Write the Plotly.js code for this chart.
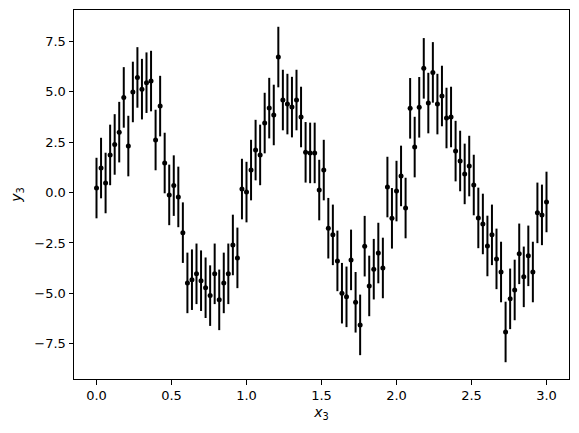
<!DOCTYPE html>
<html>
<head>
<meta charset="utf-8">
<script src="https://cdn.plot.ly/plotly-3.0.1.min.js"></script>
<style>html,body{margin:0;padding:0;background:#fff;}#chart{width:579px;height:433px;}</style>
</head>
<body>
<div id="chart"></div>
<script>
const xStart = 0, xEnd = 3;
const yValues = [
  0.22, 1.21, 0.47, 1.86, 2.38, 2.99, 4.71, 2.30, 4.98, 5.70,
  5.12, 5.44, 5.52, 2.60, 4.28, 1.46, -0.12, 0.34, -0.22, -1.99,
  -4.48, -4.32, -4.03, -4.37, -4.72, -5.11, -4.03, -5.32, -4.48, -4.03,
  -2.60, -3.24, 0.17, 0.02, 1.11, 2.10, 1.86, 3.44, 4.18, 3.84,
  6.71, 4.58, 4.38, 4.23, 4.58, 3.74, 1.99, 1.96, 1.96, 0.12,
  1.11, -1.77, -2.10, -3.39, -4.99, -5.17, -3.34, -5.44, -6.56, -2.66,
  -4.63, -3.80, -3.00, -3.74, 0.27, -1.28, 0.07, 0.82, -0.77, 4.17,
  2.25, 4.22, 6.15, 4.43, 5.95, 4.38, 4.78, 3.69, 3.74, 2.05,
  1.56, 0.92, 1.31, 0.37, -1.26, -1.56, -2.65, -2.10, -3.29, -3.94,
  -6.91, -5.27, -4.83, -3.04, -4.18, -3.14, -3.94, -1.01, -1.11, -0.47
];
const yError = 1.5;
const xValues = yValues.map((_, i) => xStart + (xEnd - xStart) * i / (yValues.length - 1));

const lo = Math.min(...yValues) - yError, hi = Math.max(...yValues) + yError;
const pad = (hi - lo) * 0.05;

const tickFont = {family: 'DejaVu Sans', size: 13, color: '#000'};
const titleFont = {family: 'DejaVu Sans', size: 14, color: '#000'};
const axisCommon = {
  showline: true, mirror: true, linecolor: '#000', linewidth: 1,
  ticks: 'outside', ticklen: 4.5, tickwidth: 1, tickcolor: '#000',
  showgrid: false, zeroline: false, tickfont: tickFont, tickformat: '.1f'
};

Plotly.newPlot('chart', [{
  x: xValues, y: yValues, type: 'scatter', mode: 'markers',
  marker: {color: '#000', size: 5},
  error_y: {type: 'constant', value: yError, color: '#000', thickness: 2, width: 0}
}], {
  width: 579, height: 433,
  margin: {l: 74, r: 10, t: 10, b: 54},
  paper_bgcolor: '#fff', plot_bgcolor: '#fff',
  showlegend: false,
  font: tickFont,
  xaxis: Object.assign({}, axisCommon, {
    range: [-0.15, 3.15], dtick: 0.5, tick0: 0,
    title: {text: '<i>x</i><sub>3</sub>', font: titleFont, standoff: 5}
  }),
  yaxis: Object.assign({}, axisCommon, {
    range: [lo - pad, hi + pad], dtick: 2.5, tick0: 0,
    title: {text: '<i>y</i><sub>3</sub>', font: titleFont, standoff: 9}
  })
}, {staticPlot: true});
</script>
</body>
</html>
